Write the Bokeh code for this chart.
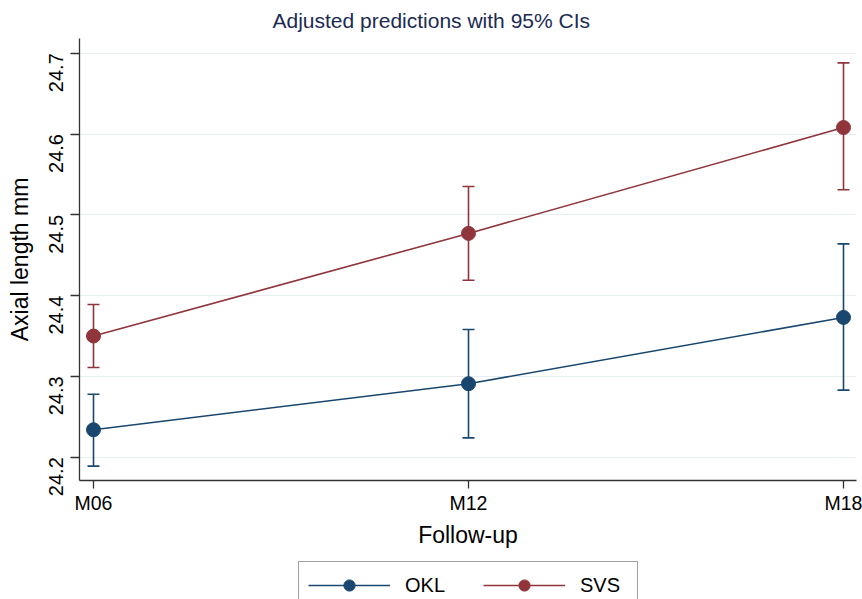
import math
from bokeh.plotting import figure
from bokeh.layouts import column
from bokeh.models import (ColumnDataSource, Whisker, TeeHead, FixedTicker, Legend,
                          LegendItem, Range1d, NumeralTickFormatter)
from bokeh.embed import file_html
from bokeh.resources import INLINE

# ---- data ----
visits = ["M06", "M12", "M18"]
okl_mean = [24.234, 24.291, 24.373]
okl_lo = [24.189, 24.224, 24.283]
okl_hi = [24.278, 24.358, 24.464]
svs_mean = [24.350, 24.477, 24.608]
svs_lo = [24.311, 24.419, 24.531]
svs_hi = [24.389, 24.535, 24.688]
y_ticks = [24.2, 24.3, 24.4, 24.5, 24.6, 24.7]
series_names = ["OKL", "SVS"]
title_text = "Adjusted predictions with 95% CIs"

FONT = "Liberation Sans"
NAVY = "#1a476f"
MAROON = "#90353b"
GRID = "#e6eef0"
AXIS = "#333333"
W = 862
LEFT = 79
RIGHT = 6

xs = list(range(len(visits)))

# ---- main plot ----
p = figure(width=W, height=558, output_backend="svg", toolbar_location=None,
           x_range=Range1d(-0.03733, 2.03467), y_range=Range1d(24.1712, 24.7182),
           min_border_left=LEFT, min_border_right=RIGHT, min_border_top=38,
           min_border_bottom=78)
p.outline_line_color = None
p.background_fill_color = "white"
p.border_fill_color = "white"

p.title.text = title_text
p.title.align = "left"
p.title.offset = 193
p.title.standoff = 13
p.title.text_font = FONT
p.title.text_font_size = "21px"
p.title.text_font_style = "normal"
p.title.text_color = "#1c2b52"

p.xgrid.grid_line_color = None
p.ygrid.ticker = FixedTicker(ticks=y_ticks)
p.ygrid.grid_line_color = GRID
p.ygrid.grid_line_width = 1.2

p.xaxis.ticker = FixedTicker(ticks=xs)
p.xaxis.major_label_overrides = {i: v for i, v in enumerate(visits)}
p.xaxis.axis_label = "Follow-up"
p.xaxis.minor_tick_line_color = None
p.xaxis.major_tick_in = 0
p.xaxis.major_tick_out = 8
p.xaxis.major_label_standoff = 3
p.xaxis.axis_label_standoff = 5

p.yaxis.ticker = FixedTicker(ticks=y_ticks)
p.yaxis.formatter = NumeralTickFormatter(format="0.0")
p.yaxis.axis_label = "Axial length mm"
p.yaxis.minor_tick_line_color = None
p.yaxis.major_tick_in = 0
p.yaxis.major_tick_out = 9
p.yaxis.major_label_orientation = math.pi / 2
p.yaxis.major_label_standoff = 14
p.yaxis.axis_label_standoff = 7

for ax in (p.xaxis[0], p.yaxis[0]):
    ax.axis_line_color = AXIS
    ax.axis_line_width = 1.3
    ax.major_tick_line_color = AXIS
    ax.major_tick_line_width = 1.3
    ax.major_label_text_font = FONT
    ax.major_label_text_color = "black"
    ax.axis_label_text_font = FONT
    ax.axis_label_text_font_size = "23px"
    ax.axis_label_text_font_style = "normal"
    ax.axis_label_text_color = "black"
p.xaxis.major_label_text_font_size = "19.5px"
p.yaxis.major_label_text_font_size = "20px"

series = [(okl_mean, okl_lo, okl_hi, NAVY), (svs_mean, svs_lo, svs_hi, MAROON)]
for mean, lo, hi, col in series:
    src = ColumnDataSource(dict(x=xs, y=mean, lo=lo, hi=hi))
    p.add_layout(Whisker(base="x", upper="hi", lower="lo", source=src,
                         dimension="height", line_color=col, line_width=1.6,
                         upper_head=TeeHead(size=12, line_color=col, line_width=1.6),
                         lower_head=TeeHead(size=12, line_color=col, line_width=1.6)))
    p.line("x", "y", source=src, line_color=col, line_width=1.6)
    p.scatter("x", "y", source=src, size=14, marker="circle",
              fill_color=col, line_color=col)

# ---- legend strip (a figure with no title, no axes) ----
p2 = figure(width=W, height=41, output_backend="svg", toolbar_location=None,
            title=None, x_range=Range1d(0, 1), y_range=Range1d(0, 1),
            x_axis_type=None, y_axis_type=None,
            min_border_left=LEFT, min_border_right=RIGHT, min_border_top=0,
            min_border_bottom=0)
p2.outline_line_color = None
p2.background_fill_color = "white"
p2.border_fill_color = "white"
items = []
for name, (_, _, _, col) in zip(series_names, series):
    ln = p2.line([-5, -4], [-5, -5], line_color=col, line_width=1.6)
    sc = p2.scatter([-5], [-5], size=14, marker="circle", fill_color=col,
                    line_color=col)
    items.append(LegendItem(label=name, renderers=[ln, sc]))
legend = Legend(items=items, orientation="horizontal", location=(298 - LEFT, -10),
                glyph_width=82, glyph_height=28, label_standoff=15, spacing=30,
                label_width=48, padding=9, margin=0, border_line_color="#444444",
                border_line_width=1.3, background_fill_color="white",
                label_text_font=FONT, label_text_font_size="20px",
                label_text_color="black")
p2.add_layout(legend)

layout = column(p, p2, spacing=0)
open("out.html", "w").write(file_html(layout, INLINE))
